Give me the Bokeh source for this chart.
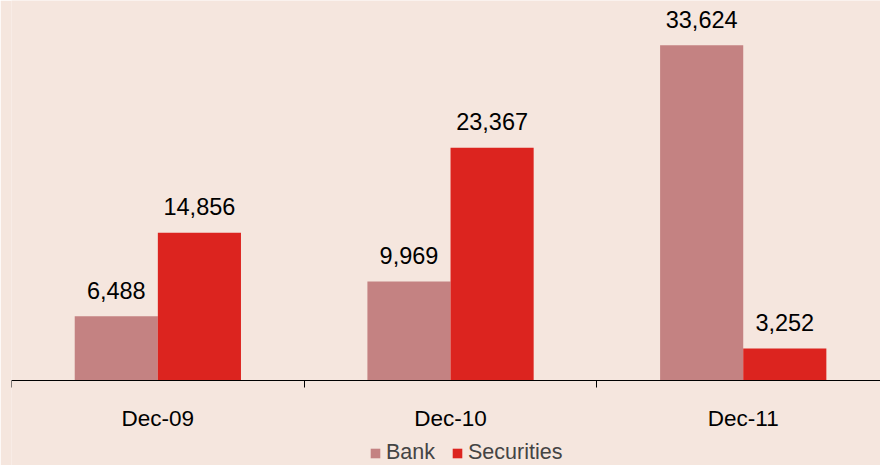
from bokeh.plotting import figure
from bokeh.models import ColumnDataSource, Range1d, LinearAxis, FixedTicker, Legend, LegendItem
from bokeh.core.properties import value
from bokeh.embed import file_html
from bokeh.resources import INLINE

categories = ["Dec-09", "Dec-10", "Dec-11"]
bank = [6488, 9969, 33624]
securities = [14856, 23367, 3252]
series_names = ["Bank", "Securities"]

BG = "#F5E6DE"
C_BANK = "#C48282"
C_SEC = "#DC241F"
FONT = "Liberation Sans"

idx = list(range(len(categories)))
centers = [i + 0.5 for i in idx]
bw = 0.284
src = ColumnDataSource(dict(
    xb=[c - bw / 2 for c in centers],
    xs=[c + bw / 2 for c in centers],
    bank=bank,
    sec=securities,
    bank_lbl=[f"{v:,}" for v in bank],
    sec_lbl=[f"{v:,}" for v in securities],
))

p = figure(width=880, height=465,
           x_range=Range1d(0, 2.969), y_range=Range1d(-8480, 38120),
           output_backend="svg", toolbar_location=None,
           x_axis_location=None, y_axis_location=None,
           min_border_left=11, min_border_right=0, min_border_top=0, min_border_bottom=0)
p.background_fill_color = BG
p.border_fill_color = BG
p.outline_line_color = None
p.xgrid.visible = False
p.ygrid.visible = False

rb = p.vbar(x="xb", top="bank", width=bw, source=src, fill_color=C_BANK, line_color=None)
rs = p.vbar(x="xs", top="sec", width=bw, source=src, fill_color=C_SEC, line_color=None)

for xcol, ycol, lcol in [("xb", "bank", "bank_lbl"), ("xs", "sec", "sec_lbl")]:
    p.text(x=xcol, y=ycol, text=lcol, source=src, text_align="center",
           text_baseline="alphabetic", y_offset=-26,
           text_font=value(FONT), text_font_size="23.5px", text_color="#000000")

ax = LinearAxis(ticker=FixedTicker(ticks=centers, minor_ticks=[0, 1, 2, 3]), fixed_location=0)
ax.major_label_overrides = {c: categories[i] for i, c in enumerate(centers)}
ax.major_tick_out = 0
ax.major_tick_in = 0
ax.minor_tick_out = 7
ax.minor_tick_in = 0
ax.minor_tick_line_color = "#000000"
ax.axis_line_color = "#000000"
ax.axis_line_width = 1
ax.major_label_standoff = 18
ax.major_label_text_font = FONT
ax.major_label_text_font_size = "22.5px"
ax.major_label_text_color = "#000000"
p.add_layout(ax, "below")

legend = Legend(items=[LegendItem(label=series_names[0], renderers=[rb]),
                       LegendItem(label=series_names[1], renderers=[rs])],
                orientation="horizontal", location=(358, 0),
                glyph_width=12, glyph_height=12, label_standoff=5, spacing=16,
                padding=0, margin=0,
                label_text_font=FONT, label_text_font_size="21.5px",
                border_line_color=None, background_fill_alpha=0)
p.add_layout(legend, "center")

open("out.html", "w").write(file_html(p, INLINE))
